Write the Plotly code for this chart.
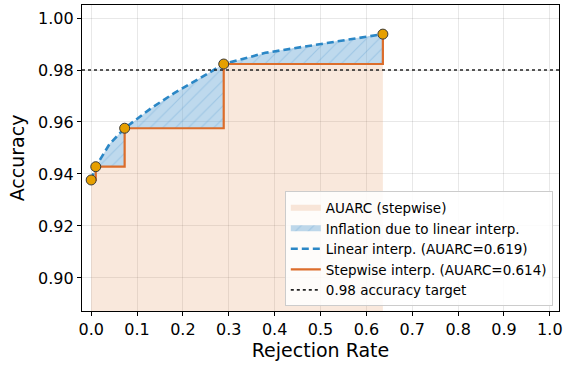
import plotly.graph_objects as go

# Operating points (markers / stepwise curve)
step_rate = [0.0, 0.01, 0.073, 0.289, 0.636]
step_acc = [0.9377, 0.9428, 0.9576, 0.9823, 0.9938]

# Linear-interpolated curve
lin_rate = [0.0, 0.01, 0.04, 0.073, 0.13, 0.18, 0.235, 0.289, 0.38, 0.4625, 0.55, 0.636]
lin_acc = [0.9377, 0.9428, 0.9515, 0.9576, 0.9652, 0.9710, 0.9766, 0.9823, 0.9866, 0.9890, 0.9915, 0.9938]

target = 0.98
x_ticks = [i / 10 for i in range(11)]
y_ticks = [0.90, 0.92, 0.94, 0.96, 0.98, 1.00]

BLUE = "#2b87c6"
ORANGE = "#dc6d2b"
MARK = "#e69f00"
FONT = "DejaVu Sans"

fig = go.Figure()

# AUARC stepwise area
fig.add_trace(go.Scatter(
    x=step_rate, y=step_acc, mode="none", line_shape="hv", fill="tozeroy",
    fillcolor="rgba(225,135,70,0.19)", name="AUARC (stepwise)", hoverinfo="skip"))
# invisible stepwise baseline for inflation fill
fig.add_trace(go.Scatter(
    x=step_rate, y=step_acc, mode="lines", line_shape="hv",
    line=dict(width=0, color="rgba(0,0,0,0)"), showlegend=False, hoverinfo="skip"))
# Inflation region
fig.add_trace(go.Scatter(
    x=lin_rate, y=lin_acc, mode="none", fill="tonexty",
    fillcolor="rgba(110,170,215,0.45)",
    fillpattern=dict(shape="/", bgcolor="rgba(110,170,215,0.45)",
                     fgcolor="rgba(70,145,205,0.55)", size=9, solidity=0.12),
    name="Inflation due to linear interp.", hoverinfo="skip"))
# Linear line
fig.add_trace(go.Scatter(
    x=lin_rate, y=lin_acc, mode="lines",
    line=dict(color=BLUE, width=2.6, dash="7px,4px"),
    name="Linear interp. (AUARC=0.619)"))
# Stepwise line
fig.add_trace(go.Scatter(
    x=step_rate, y=step_acc, mode="lines", line_shape="hv",
    line=dict(color=ORANGE, width=2.2),
    name="Stepwise interp. (AUARC=0.614)"))
# Target line
fig.add_trace(go.Scatter(
    x=[-0.02, 1.02], y=[target, target], mode="lines",
    line=dict(color="#222", width=1.6, dash="dot"),
    name="0.98 accuracy target"))
# Markers
fig.add_trace(go.Scatter(
    x=step_rate, y=step_acc, mode="markers",
    marker=dict(size=10, color=MARK, line=dict(color="#3a3a3a", width=1)),
    showlegend=False))

axis_common = dict(
    showline=True, linecolor="black", linewidth=1.2, mirror=True,
    ticks="outside", ticklen=4, tickcolor="black",
    showgrid=True, gridcolor="rgba(0,0,0,0.09)", gridwidth=1,
    zeroline=False, tickfont=dict(size=16, color="black", family=FONT),
    automargin=False,
)

fig.update_xaxes(range=[-0.02, 1.02], tickvals=x_ticks,
                 ticktext=[f"{v:.1f}" for v in x_ticks],
                 title=dict(text="Rejection Rate", font=dict(size=19, color="black", family=FONT), standoff=4),
                 **axis_common)
fig.update_yaxes(range=[0.8873, 1.005], tickvals=y_ticks,
                 ticktext=[f"{v:.2f}" for v in y_ticks],
                 title=dict(text="Accuracy", font=dict(size=19, color="black", family=FONT), standoff=8),
                 **axis_common)

fig.update_layout(
    width=569, height=365,
    margin=dict(l=82, r=10, t=5, b=54),
    plot_bgcolor="white", paper_bgcolor="white",
    font=dict(family=FONT, color="black"),
    legend=dict(x=0.987, y=0.015, xanchor="right", yanchor="bottom",
                bgcolor="rgba(255,255,255,0.85)", bordercolor="#cccccc", borderwidth=1,
                font=dict(size=13.5, family=FONT), itemwidth=30, tracegroupgap=0,
                traceorder="normal"),
    showlegend=True,
)

fig.write_html("out.html", config={"displayModeBar": False},
               post_script="document.body.style.margin='0';document.body.style.overflow='hidden';")
